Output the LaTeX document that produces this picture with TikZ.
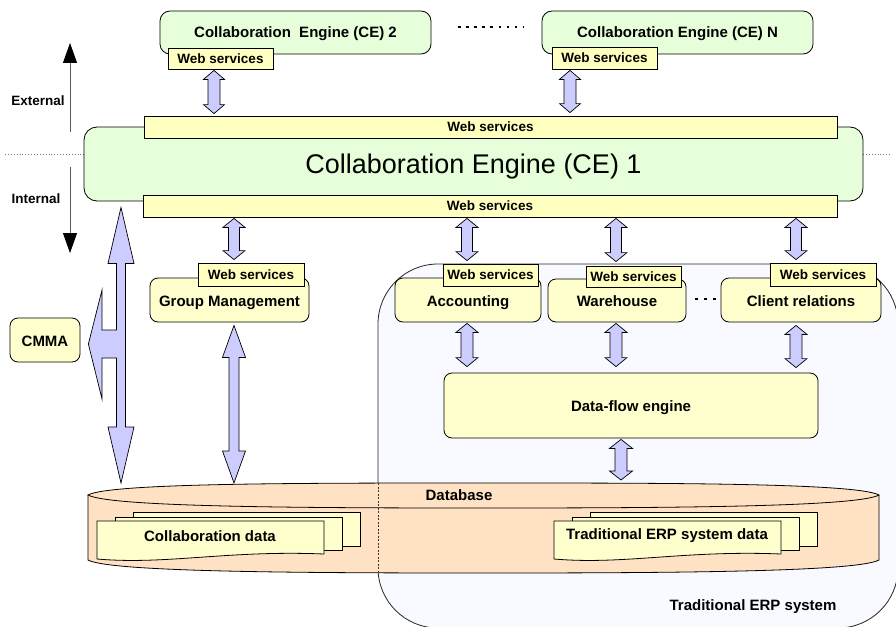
\documentclass[tikz,border=0pt]{standalone}
\usepackage{fontspec}
\setmainfont{Liberation Sans}
\usetikzlibrary{calc,arrows.meta}
\definecolor{cegreen}{RGB}{230,255,218}
\definecolor{wsyellow}{RGB}{255,255,192}
\definecolor{modyellow}{RGB}{255,255,206}
\definecolor{lav}{RGB}{204,204,255}
\definecolor{dbpeach}{RGB}{255,226,196}
\definecolor{erpbg}{RGB}{248,250,255}
\newcommand{\wsfont}{\bfseries\fontsize{13.5}{15}\selectfont}
\newcommand{\lblfont}{\bfseries\fontsize{15}{17}\selectfont}
% fat double arrow: x, top anchor, bottom anchor, head half-width, shaft half-width, head length, top gap, bottom gap
\newcommand{\fatarrow}[8]{\draw[fat] let \p1=#2, \p2=#3 in
  (#1pt,\y1-#7pt) -- (#1pt+#4pt,\y1-#7pt-#6pt) -- (#1pt+#5pt,\y1-#7pt-#6pt)
  -- (#1pt+#5pt,\y2+#8pt+#6pt) -- (#1pt+#4pt,\y2+#8pt+#6pt) -- (#1pt,\y2+#8pt)
  -- (#1pt-#4pt,\y2+#8pt+#6pt) -- (#1pt-#5pt,\y2+#8pt+#6pt)
  -- (#1pt-#5pt,\y1-#7pt-#6pt) -- (#1pt-#4pt,\y1-#7pt-#6pt) -- cycle;}
% stack of documents: x, y of front top-left, name, text
\newcommand{\docstack}[4]{%
  \draw[doc] (#1+36,#2-9) rectangle (#1+263,#2+25);
  \draw[doc] (#1+18,#2-4) rectangle (#1+245,#2+29);
  \draw[doc] (#1,#2) -- (#1+227,#2) -- (#1+227,#2+33)
     .. controls (#1+130,#2+29) and (#1+70,#2+44) .. (#1,#2+38) -- cycle;
  \node[plain] (#3) at (#1+113,#2+15) {#4};}
\begin{document}
\begin{tikzpicture}[x=1pt,y=-1pt,line width=0.8pt,
  cebox/.style={draw, fill=cegreen, rounded corners=10pt, inner sep=0pt, font=\lblfont},
  wsbox/.style={draw, fill=wsyellow, inner sep=0pt, font=\wsfont},
  modbox/.style={draw, fill=modyellow, rounded corners=8pt, inner sep=0pt, font=\lblfont,
                 text height=16pt, text depth=3.5pt},
  fat/.style={draw, fill=lav, line join=miter, line width=0.7pt},
  doc/.style={draw, fill=modyellow, line width=0.8pt},
  plain/.style={font=\lblfont, inner sep=0pt},
  small/.style={font=\wsfont, inner sep=0pt},
  sep/.style={draw=black!55, dotted, line width=0.9pt},
  dotrow/.style={line width=2.5pt, dash pattern=on 2.5pt off 5.6pt}
]
\useasboundingbox (0,0) rectangle (896,626);
\fill[white] (0,0) rectangle (896,626);

% Traditional ERP system region
\node[draw=black!85, fill=erpbg, rounded corners=60pt, minimum width=520pt,
      minimum height=364pt, inner sep=0pt] (erp) at (638,446) {};
\node[plain] (erplbl) at (753,607) {Traditional ERP system};

% External / Internal
\coordinate (extA) at (70,132); \coordinate (extB) at (70,43);
\coordinate (intA) at (70,167); \coordinate (intB) at (70,253);
\draw[black!65, -{Triangle[width=14pt,length=20pt,black]}] (extA) -- (extB);
\draw[black!65, -{Triangle[width=14pt,length=20pt,black]}] (intA) -- (intB);
\node[small] (extlbl) at (38,101) {External};
\node[small] (intlbl) at (36,199) {Internal};
\coordinate (sepL1) at (5,154); \coordinate (sepL2) at (84,154);
\coordinate (sepR1) at (863,154); \coordinate (sepR2) at (890,154);
\draw[sep] (sepL1) -- (sepL2);
\draw[sep] (sepR1) -- (sepR2);

% external collaboration engines
\node[cebox, minimum width=271pt, minimum height=43pt, text height=12pt, text depth=2pt] (ce2) at (295.5,32.5) {Collaboration\ \ Engine (CE) 2};
\node[wsbox, minimum width=105pt, minimum height=21pt] (ws2) at (220.5,58.5) {Web services};
\node[cebox, minimum width=271pt, minimum height=43pt, text height=12pt, text depth=2pt] (ceN) at (677.5,32.5) {Collaboration Engine (CE) N};
\node[wsbox, minimum width=105pt, minimum height=22pt] (wsN) at (604.5,58) {Web services};
\coordinate (dA) at (458,27); \coordinate (dB) at (523,27);
\draw[dotrow] (dA) -- (dB);

% CE 1
\node[cebox, rounded corners=13pt, minimum width=779pt, minimum height=74pt,
      font=\fontsize{27}{30}\selectfont, text height=19.7pt, text depth=0pt] (ce1) at (473.5,164) {Collaboration Engine (CE) 1};
\node[wsbox, minimum width=693pt, minimum height=22pt] (ce1wsT) at (490.5,127) {Web services};
\node[wsbox, minimum width=694pt, minimum height=22pt] (ce1wsB) at (490,206) {Web services};

% modules
\node[modbox, minimum width=159pt, minimum height=44pt] (gm) at (229.5,300) {Group Management};
\node[wsbox, minimum width=106pt, minimum height=23pt] (gmws) at (251,274.5) {Web services};
\node[modbox, minimum width=146pt, minimum height=44pt] (acc) at (468,300) {Accounting};
\node[wsbox, minimum width=95pt, minimum height=22pt] (accws) at (490.5,275) {Web services};
\node[modbox, minimum width=138pt, minimum height=43pt] (wh) at (617,300.5) {Warehouse};
\node[wsbox, minimum width=95pt, minimum height=21pt] (whws) at (633.5,276.5) {Web services};
\node[modbox, minimum width=160pt, minimum height=44pt] (cl) at (801,300) {Client relations};
\node[wsbox, minimum width=106pt, minimum height=23pt] (clws) at (823,274.5) {Web services};
\coordinate (eA) at (695,299); \coordinate (eB) at (717,299);
\draw[dotrow, dash pattern=on 2.5pt off 6.5pt] (eA) -- (eB);
\node[modbox, minimum width=374pt, minimum height=65pt] (df) at (631,405.5) {Data-flow engine};
\node[modbox, minimum width=70pt, minimum height=44pt] (cmma) at (45,340) {CMMA};

% database
\node[inner sep=0pt, minimum width=791pt, minimum height=90pt] (db) at (483.5,528) {};
\coordinate (dbtop) at (483,483);
\fill[dbpeach] (88,495) .. controls (110,483) and (300,483) .. (483,483)
   .. controls (666,483) and (857,483) .. (879,495) -- (879,560)
   .. controls (857,572) and (666,573) .. (483,573)
   .. controls (300,573) and (110,572) .. (88,560) -- cycle;
\draw (88,495) -- (88,560) .. controls (110,572) and (300,573) .. (483,573)
   .. controls (666,573) and (857,572) .. (879,560) -- (879,495);
\draw (88,495) .. controls (110,483) and (300,483) .. (483,483)
   .. controls (666,483) and (857,483) .. (879,495)
   .. controls (857,507) and (666,508) .. (483,508)
   .. controls (300,508) and (110,507) .. (88,495) -- cycle;
\node[plain] (dblbl) at (459,495) {Database};
\draw[black!80, line width=0.6pt, dash pattern=on 2pt off 1.5pt] (378,483) -- (378,572);
\docstack{97}{521}{cdata}{Collaboration data}
\docstack{554}{521}{edata}{Traditional ERP system data}

% fat arrows
\fatarrow{214}{(ws2.south)}{(ce1wsT.north)}{10.5}{6}{9}{1}{2}
\fatarrow{570}{(wsN.south)}{(ce1wsT.north)}{10.5}{6}{9}{1}{3}
\fatarrow{234}{(ce1wsB.south)}{(gmws.north)}{11}{5.5}{9}{1}{3}
\fatarrow{467}{(ce1wsB.south)}{(accws.north)}{11}{5.5}{9}{1}{3}
\fatarrow{616}{(ce1wsB.south)}{(whws.north)}{11}{5.5}{9}{1}{4}
\fatarrow{796}{(ce1wsB.south)}{(clws.north)}{11}{5.5}{9}{1}{3}
\fatarrow{234}{(gm.south)}{(dbtop)}{11.5}{5}{32}{3}{0}
\fatarrow{467}{(acc.south)}{(df.north)}{11}{6}{9}{1}{6}
\fatarrow{616}{(wh.south)}{(df.north)}{11}{6}{9}{1}{6}
\fatarrow{796}{(cl.south)}{(df.north)}{11}{6}{9}{3}{5}
\fatarrow{621}{(df.south)}{(dbtop)}{11.5}{6}{9}{1}{3}
% CMMA arrow with branch
\draw[fat] let \p1=(ce1.south), \p2=(dbtop), \p3=(cmma.east) in
  (121pt,\y1-6pt) -- (134pt,\y1-62pt) -- (125.5pt,\y1-62pt) -- (125.5pt,\y2+56pt)
  -- (134pt,\y2+56pt) -- (121pt,\y2) -- (108pt,\y2+56pt) -- (116.5pt,\y2+56pt)
  -- (116.5pt,\y3-18pt) -- (102pt,\y3-18pt) -- (102pt,\y3-59pt) -- (\x3+8pt,\y3-4pt)
  -- (102pt,\y3+50pt) -- (102pt,\y3+10pt) -- (116.5pt,\y3+10pt) -- (116.5pt,\y1-62pt)
  -- (108pt,\y1-62pt) -- cycle;
\end{tikzpicture}
\end{document}
